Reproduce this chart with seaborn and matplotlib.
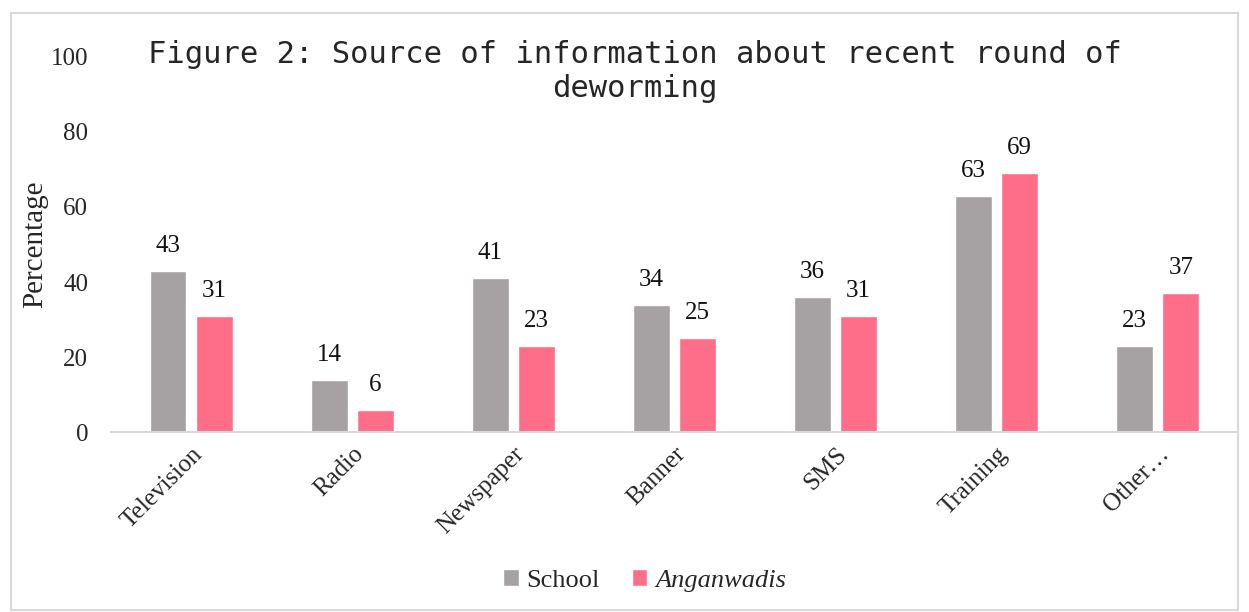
import matplotlib
matplotlib.use("Agg")
import matplotlib.pyplot as plt
import seaborn as sns
import pandas as pd
from matplotlib.patches import Rectangle

categories = ["Television", "Radio", "Newspaper", "Banner", "SMS", "Training", "Other…"]
school = [43, 14, 41, 34, 36, 63, 23]
anganwadis = [31, 6, 23, 25, 31, 69, 37]
series_names = ["School", "Anganwadis"]
yticks = [0, 20, 40, 60, 80, 100]

df = pd.DataFrame({
    "cat": categories * 2,
    "val": school + anganwadis,
    "series": [series_names[0]] * len(categories) + [series_names[1]] * len(categories),
})

sns.set_theme(style="white")
plt.rcParams["font.family"] = ["Liberation Serif", "DejaVu Serif"]

fig = plt.figure(figsize=(12.49, 6.12), dpi=100)
ax = fig.add_axes([0.0885, 0.294, 0.903, 0.613])

colors = ["#A6A1A3", "#FF6E88"]
sns.barplot(data=df, x="cat", y="val", hue="series", palette=colors,
            width=0.572, gap=0.2, ax=ax, legend=True, saturation=1)

for cont in ax.containers:
    ax.bar_label(cont, labels=[f"{int(v)}" for v in cont.datavalues],
                 padding=10, fontsize=18, color="#111111")

ax.set_ylim(0, 100)
ax.set_yticks(yticks)
ax.set_yticklabels([str(t) for t in yticks], fontsize=18)
ax.tick_params(axis="y", length=0, pad=16)
ax.tick_params(axis="x", length=0, pad=8)
plt.setp(ax.get_xticklabels(), rotation=45, ha="right", rotation_mode="anchor", fontsize=18)
ax.set_xlabel("")
ax.set_ylabel("Percentage", fontsize=21, labelpad=2)
for s in ["top", "right", "left"]:
    ax.spines[s].set_visible(False)
ax.spines["bottom"].set_color("#D9D9D9")
ax.spines["bottom"].set_linewidth(1.5)

ax.get_legend().remove()
handles, labels = ax.get_legend_handles_labels()
leg = fig.legend(handles, labels, loc="center", bbox_to_anchor=(0.516, 0.052), ncol=2,
                 frameon=False, fontsize=19, handlelength=0.6, handleheight=0.6,
                 columnspacing=1.2, handletextpad=0.3)
leg.get_texts()[1].set_style("italic")

fig.text(0.508, 0.883, "Figure 2: Source of information about recent round of\ndeworming",
         ha="center", va="center", fontsize=22, family="DejaVu Sans Mono",
         linespacing=1.2)

fig.patches.append(Rectangle((0.009, 0.004), 0.982, 0.975, transform=fig.transFigure,
                             fill=False, edgecolor="#D9D9D9", linewidth=1.5))

fig.savefig("out.png", dpi=100)
